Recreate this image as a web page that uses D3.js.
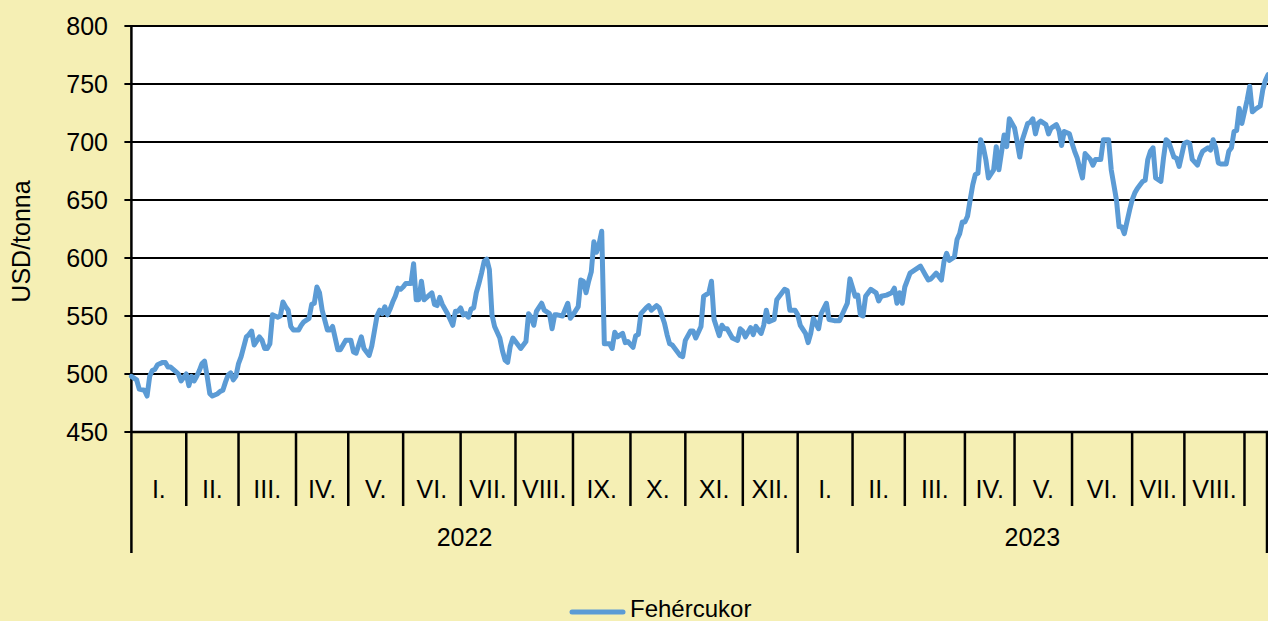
<!DOCTYPE html>
<html><head><meta charset="utf-8">
<script src="https://cdn.jsdelivr.net/npm/d3@7"></script>
<style>html,body{margin:0;padding:0;background:#F5EFB4;overflow:hidden}</style>
</head><body>
<svg id="chart" width="1268" height="621"></svg>
<script>
// ---- data ----
const years = ["2022", "2023"];
const monthLabels = ["I.","II.","III.","IV.","V.","VI.","VII.","VIII.","IX.","X.","XI.","XII.",
                     "I.","II.","III.","IV.","V.","VI.","VII.","VIII.",""];
// trading days per month (last month partial)
const monthDays = [21,20,22,20,21,22,21,22,22,21,22,21, 21,20,23,19,22,23,20,23,10];
const monthsPerYear = [12, 9];
const yTicks = [450,500,550,600,650,700,750,800];
const seriesName = "Fehércukor";
const yTitle = "USD/tonna";
// trading-day index and price (USD/t)
const days = [0,2,3,5,6,7,8,9,10,12,13,14,15,17,18,19,21,22,23,24,25,26,27,28,29,30,31,33,34,35,36,37,38,39,40,41,42,44,45,46,47,49,50,51,52,53,54,56,57,58,59,60,61,62,64,65,66,68,69,70,71,72,73,75,76,77,79,80,81,82,84,85,86,87,88,89,90,91,92,93,94,95,96,97,98,99,100,101,102,103,104,105,107,108,109,110,111,112,114,115,116,117,118,119,121,123,124,125,126,127,128,129,130,131,132,133,134,135,136,137,138,139,141,142,143,144,145,146,148,149,151,152,153,154,155,157,158,160,161,162,163,165,167,168,169,171,172,173,174,175,176,177,178,179,180,181,183,184,185,186,188,189,190,192,193,194,195,197,198,199,201,202,204,205,206,207,209,210,211,212,214,215,216,218,219,221,222,223,225,226,227,228,230,232,233,234,235,237,238,239,241,242,243,244,246,247,249,250,251,252,254,255,256,258,259,260,261,263,264,266,267,269,271,272,274,275,277,278,279,280,281,283,285,286,287,289,291,292,293,294,295,296,298,300,302,304,305,306,308,310,311,312,313,315,316,317,318,319,320,321,322,323,324,325,326,327,328,330,331,332,334,335,336,338,339,340,341,343,344,345,346,347,348,350,351,352,354,355,356,357,359,360,361,362,363,364,365,367,368,369,371,372,373,374,375,376,377,378,379,380,382,383,384,385,387,388,389,390,391,392,394,395,396,397,399,400,401,403,404,405,406,408,409,410,412,413,414,415,416,417,419,420,421,422,423,424,425,427,428,429,430,432,433,434,435];
const prices = [498,495,487,486,481,498,503,504,508,510,510,506,506,502,500,494,500,490,498,494,498,503,509,511,498,483,481,483,485,486,493,499,501,495,498,509,515,532,534,537,525,532,529,522,522,526,551,549,550,562,558,555,541,538,538,542,545,548,560,561,575,570,555,538,538,541,521,521,525,529,529,519,518,525,532,522,519,516,524,537,550,555,552,558,551,556,562,567,574,573,575,578,578,595,564,564,580,564,568,570,560,559,566,560,552,542,554,554,557,551,552,549,556,557,570,578,587,597,599,590,551,541,531,520,512,510,524,531,525,522,528,552,549,542,554,561,555,552,539,551,551,550,561,548,551,558,581,580,570,580,588,614,605,612,623,526,526,522,536,532,535,527,528,523,533,534,552,557,559,555,559,557,544,534,526,525,519,516,515,529,537,537,531,541,567,570,580,547,533,542,539,539,531,529,539,537,532,540,534,541,535,542,555,545,547,564,570,573,572,555,555,551,542,535,527,535,548,539,552,561,547,546,546,551,561,582,567,568,551,550,567,573,570,563,567,568,570,574,561,570,561,575,587,590,593,585,581,582,587,581,597,604,598,601,616,621,631,631,636,650,663,672,673,702,696,685,669,676,696,676,706,696,720,712,700,687,702,716,717,720,707,716,718,715,707,712,715,710,697,709,707,699,692,686,677,669,690,685,680,685,685,702,702,702,676,663,650,627,627,621,641,650,656,660,666,667,685,692,695,669,666,686,702,700,687,686,679,699,700,699,685,680,687,692,695,693,702,695,682,681,681,692,695,709,710,729,716,736,748,726,728,731,745,753,758];

// ---- layout ----
const svg = d3.select("#chart");
const W = 1268, H = 621;
const plotLeft = 131.4, plotTop = 26, plotBottom = 432;
const totalDays = d3.sum(monthDays);
const x = d3.scaleLinear().domain([0, totalDays - 1]).range([plotLeft, 1268]);
const y = d3.scaleLinear().domain([450, 800]).range([plotBottom, plotTop]);
const font = "'Liberation Sans', Arial, sans-serif";

svg.append("rect").attr("width", W).attr("height", H).attr("fill", "#F5EFB4");
svg.append("rect").attr("x", plotLeft).attr("y", plotTop).attr("width", W - plotLeft).attr("height", plotBottom - plotTop).attr("fill", "#fff");

// gridlines + y ticks
svg.append("g").selectAll("line").data(yTicks).join("line")
  .attr("x1", plotLeft - 7).attr("x2", W)
  .attr("y1", d => y(d)).attr("y2", d => y(d))
  .attr("stroke", "#000").attr("stroke-width", 2);
svg.append("g").selectAll("text").data(yTicks).join("text")
  .attr("x", 108).attr("y", d => y(d)).attr("dy", "0.35em")
  .attr("text-anchor", "end").attr("font-family", font).attr("font-size", 25).attr("fill", "#000")
  .text(d => d);

// y axis line
svg.append("line").attr("x1", plotLeft).attr("x2", plotLeft).attr("y1", plotTop).attr("y2", plotBottom)
  .attr("stroke", "#000").attr("stroke-width", 2.5);

// y title
svg.append("text").attr("transform", `translate(30,241.5) rotate(-90)`)
  .attr("text-anchor", "middle").attr("font-family", font).attr("font-size", 25).attr("fill", "#000")
  .text(yTitle);

// x category axis
const cum = [0];
monthDays.forEach(d => cum.push(cum[cum.length - 1] + d));
const monthBounds = cum.map(c => Math.min(x(c), W - 1));
const yearStartIdx = [0];
monthsPerYear.forEach(n => yearStartIdx.push(yearStartIdx[yearStartIdx.length - 1] + n));
const yearBoundSet = new Set(yearStartIdx);

const xg = svg.append("g");
xg.selectAll("line.m").data(monthBounds).join("line")
  .attr("x1", d => d).attr("x2", d => d)
  .attr("y1", plotBottom).attr("y2", (d, i) => yearBoundSet.has(i) ? 553 : 506)
  .attr("stroke", "#000").attr("stroke-width", 2.5);
xg.append("line").attr("x1", plotLeft).attr("x2", W).attr("y1", plotBottom).attr("y2", plotBottom)
  .attr("stroke", "#000").attr("stroke-width", 2.5);
xg.selectAll("text.m").data(monthLabels).join("text")
  .attr("x", (d, i) => (monthBounds[i] + monthBounds[i + 1]) / 2).attr("y", 498)
  .attr("text-anchor", "middle").attr("font-family", font).attr("font-size", 25).attr("fill", "#000")
  .text(d => d);
xg.selectAll("text.y").data(years).join("text")
  .attr("x", (d, i) => (monthBounds[yearStartIdx[i]] + monthBounds[yearStartIdx[i + 1]]) / 2).attr("y", 546)
  .attr("text-anchor", "middle").attr("font-family", font).attr("font-size", 25).attr("fill", "#000")
  .text(d => d);

// series line
const pts = days.map((d, i) => [d, prices[i]]);
svg.append("path").datum(pts)
  .attr("d", d3.line().x(d => x(d[0])).y(d => y(d[1])))
  .attr("fill", "none").attr("stroke", "#5B9BD5").attr("stroke-width", 5)
  .attr("stroke-linejoin", "round").attr("stroke-linecap", "round");

// legend
svg.append("line").attr("x1", 572).attr("x2", 623).attr("y1", 612).attr("y2", 612)
  .attr("stroke", "#5B9BD5").attr("stroke-width", 5).attr("stroke-linecap", "round");
svg.append("text").attr("x", 630).attr("y", 617)
  .attr("font-family", font).attr("font-size", 24).attr("fill", "#000").text(seriesName);
</script>
</body></html>
